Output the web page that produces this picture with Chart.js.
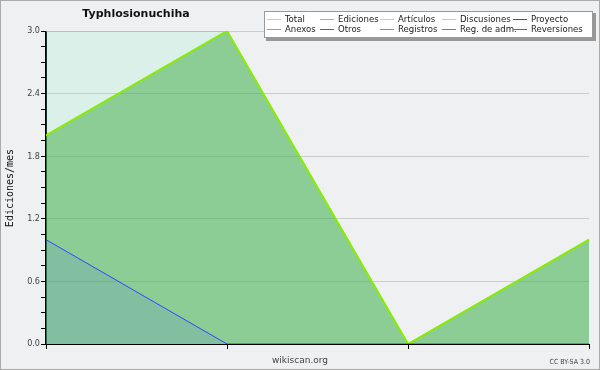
<!DOCTYPE html>
<html>
<head>
<meta charset="utf-8">
<script src="https://cdn.jsdelivr.net/npm/chart.js@4/dist/chart.umd.min.js"></script>
<style>
  body { margin: 0; background: #eff0f1; }
  #wrap { width: 600px; height: 370px; }
</style>
</head>
<body>
<div id="wrap"><canvas id="chart" width="600" height="370"></canvas></div>
<script>
const months = ['2021-01', '2021-02', '2021-03', '2021-04'];
const total = [3, 3, 0, 1];
const ediciones = [2, 3, 0, 1];
const articulos = [2, 3, 0, 1];
const registros = [1, 0, 0, 0];

const legendNames = ['Total', 'Ediciones', 'Artículos', 'Discusiones', 'Proyecto',
                     'Anexos', 'Otros', 'Registros', 'Reg. de adm.', 'Reversiones'];
const legendColors = ['#99dddd', '#77cc88', '#bbee44', '#eecc44', '#555555',
                      '#ee8844', '#7744cc', '#7788ee', '#cc44dd', '#ee3333'];

Chart.defaults.font.family = 'DejaVu Sans Condensed';

// background, frame, title, footer texts and legend box
const decor = {
  id: 'decor',
  beforeDraw(chart) {
    const c = chart.ctx;
    c.save();
    c.fillStyle = '#eff0f1';
    c.fillRect(0, 0, 600, 370);
    c.restore();
  },
  afterDatasetsDraw(chart) {
    const c = chart.ctx;
    const a = chart.chartArea;
    c.save();
    c.strokeStyle = '#000';
    c.lineWidth = 1;
    c.beginPath();
    c.moveTo(a.left, Math.round(a.bottom) + 0.5);
    c.lineTo(a.right + 1, Math.round(a.bottom) + 0.5);
    c.moveTo(Math.round(a.left) - 0.5, a.top);
    c.lineTo(Math.round(a.left) - 0.5, a.bottom + 1);
    c.stroke();
    c.restore();
  },
  afterDraw(chart) {
    const c = chart.ctx;
    c.save();
    c.strokeStyle = '#aaaaaa';
    c.strokeRect(0.5, 0.5, 599, 369);

    c.fillStyle = '#111';
    c.font = 'bold 11px "DejaVu Sans"';
    c.textAlign = 'center';
    c.textBaseline = 'middle';
    c.fillText('Typhlosionuchiha', 136, 14);

    c.fillStyle = '#444';
    c.font = '9px "DejaVu Sans"';
    c.fillText('wikiscan.org', 300, 361);
    c.font = '7px "DejaVu Sans Condensed"';
    c.textAlign = 'right';
    c.fillText('CC BY-SA 3.0', 590, 362);

    c.save();
    c.translate(10, 188);
    c.rotate(-Math.PI / 2);
    c.textAlign = 'center';
    c.fillStyle = '#111';
    c.font = '10px "DejaVu Sans Mono"';
    c.fillText('Ediciones/mes', 0, 0);
    c.restore();

    // legend
    c.fillStyle = '#999999';
    c.fillRect(266, 13, 330, 28);
    c.fillStyle = '#ffffff';
    c.fillRect(264, 11, 329, 27);
    c.strokeStyle = '#999999';
    c.strokeRect(264.5, 11.5, 328, 26);
    const cols = [267, 320, 380, 442, 513];
    c.font = '9.5px "DejaVu Sans Condensed"';
    c.textAlign = 'left';
    legendNames.forEach((name, i) => {
      const x = cols[i % 5];
      const y = i < 5 ? 19 : 29;
      c.strokeStyle = legendColors[i];
      c.beginPath();
      c.moveTo(x, y + 0.5);
      c.lineTo(x + 14, y + 0.5);
      c.stroke();
      c.fillStyle = '#222';
      c.fillText(name, x + 18, y + 1);
    });
    c.restore();
  }
};

new Chart(document.getElementById('chart'), {
  type: 'line',
  data: {
    labels: months,
    datasets: [
      {
        label: 'Registros',
        data: registros,
        order: 1,
        borderColor: '#3344ff',
        backgroundColor: 'rgba(51, 85, 255, 0.11)',
        borderWidth: 1,
        fill: 'origin'
      },
      {
        label: 'Artículos',
        data: articulos,
        order: 2,
        borderColor: '#88ee00',
        borderWidth: 2,
        fill: false
      },
      {
        label: 'Ediciones',
        data: ediciones,
        order: 3,
        borderColor: '#55bb66',
        backgroundColor: 'rgba(62, 170, 68, 0.5)',
        borderWidth: 1,
        fill: 'origin'
      },
      {
        label: 'Total',
        data: total,
        order: 4,
        borderColor: '#77c8c8',
        backgroundColor: 'rgba(139, 240, 206, 0.2)',
        borderWidth: 1,
        fill: 'origin'
      }
    ]
  },
  options: {
    responsive: false,
    animation: false,
    events: [],
    elements: { point: { radius: 0 }, line: { tension: 0 } },
    layout: { padding: { left: 0, top: 31, right: 11, bottom: 0 } },
    plugins: {
      legend: { display: false },
      tooltip: { enabled: false },
      title: { display: false }
    },
    scales: {
      x: {
        offset: false,
        afterFit: s => { s.height = 26; },
        border: { display: true, color: '#000' },
        grid: { drawOnChartArea: false, tickColor: '#000', tickLength: 5 },
        ticks: { display: false }
      },
      y: {
        min: 0,
        max: 3,
        afterFit: s => { s.width = 46; },
        border: { display: true, color: '#000' },
        grid: {
          color: ctx => (ctx.index % 4 === 0 ? '#cccccc' : 'rgba(0,0,0,0)'),
          tickColor: '#000',
          tickLength: 5
        },
        ticks: {
          stepSize: 0.15,
          autoSkip: false,
          padding: 1,
          color: '#444',
          font: { size: 9 },
          callback: (v, i) => (i % 4 === 0 ? v.toFixed(1) : '')
        }
      }
    }
  },
  plugins: [decor]
});
</script>
</body>
</html>
